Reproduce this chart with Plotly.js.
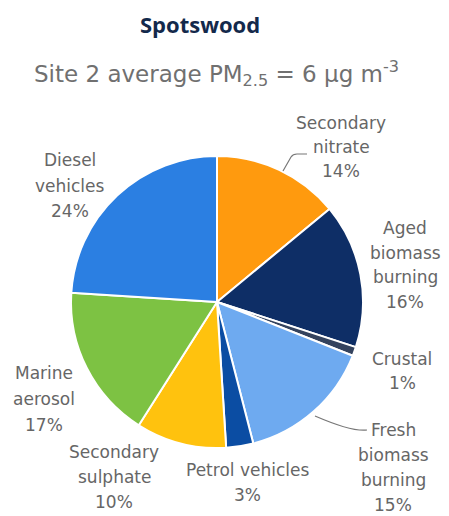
<!DOCTYPE html>
<html>
<head>
<meta charset="utf-8">
<script src="https://cdn.plot.ly/plotly-3.0.1.min.js"></script>
<style>html,body{margin:0;padding:0;background:#fff;}#chart{width:449px;height:516px;}</style>
</head>
<body>
<div id="chart"></div>
<script>
// Data
const categories = ["Secondary nitrate", "Aged biomass burning", "Crustal", "Fresh biomass burning", "Petrol vehicles", "Secondary sulphate", "Marine aerosol", "Diesel vehicles"];
const labelLines = [["Secondary", "nitrate"], ["Aged", "biomass", "burning"], ["Crustal"], ["Fresh", "biomass", "burning"], ["Petrol vehicles"], ["Secondary", "sulphate"], ["Marine", "aerosol"], ["Diesel", "vehicles"]];
const values = [14, 16, 1, 15, 3, 10, 17, 24];
const colors = ["#FF9A0E", "#0E2E66", "#34435E", "#6EAAF0", "#0B4DA3", "#FFC20E", "#7DC243", "#2B7FE2"];
const chartTitle = "Spotswood";
const subTitle = "Site 2 average PM<sub>2.5</sub> = 6 μg m<sup>-3</sup>";

const W = 449, H = 516;
const px = x => x / W;
const py = y => 1 - y / H;

// label layout (pixels): [centre x, first line y, line spacing]
const labelPos = [[341, 123, 24], [405, 228, 24.5], [402, 359, 24], [393, 430, 25], [247, 470, 25], [114, 452, 25], [44, 373, 26], [70, 160, 25.5]];

const cx = 217, cy = 302, r = 146;

const trace = {
  type: "pie",
  labels: categories,
  values: values,
  sort: false,
  direction: "clockwise",
  rotation: 0,
  textinfo: "none",
  hoverinfo: "label+percent",
  marker: {colors: colors, line: {color: "#ffffff", width: 2}},
  domain: {x: [px(cx - r), px(cx + r)], y: [py(cy + r), py(cy - r)]},
  showlegend: false
};

const font = {family: "DejaVu Sans, sans-serif", size: 17, color: "#666666"};
const annotations = [];
categories.forEach((c, i) => {
  const lines = labelLines[i].concat([values[i] + "%"]);
  const [lx, ly, sp] = labelPos[i];
  lines.forEach((t, k) => {
    annotations.push({
      x: px(lx), y: py(ly + k * sp), xref: "paper", yref: "paper",
      text: t, showarrow: false, xanchor: "center", yanchor: "middle", font: font
    });
  });
});
annotations.push({x: px(200), y: py(24), xref: "paper", yref: "paper", text: "<b>" + chartTitle + "</b>", showarrow: false,
  xanchor: "center", yanchor: "middle", font: {family: "Open Sans, sans-serif", size: 22, color: "#13294B"}});
annotations.push({x: px(216), y: py(73), xref: "paper", yref: "paper", text: subTitle, showarrow: false,
  xanchor: "center", yanchor: "middle", font: {family: "DejaVu Sans, sans-serif", size: 23, color: "#707070"}});

const P = (x, y) => `${px(x)},${py(y)}`;
const shapes = [
  {type: "path", xref: "paper", yref: "paper",
   path: `M ${P(283, 171)} L ${P(291, 157)} Q ${P(293, 154)} ${P(297, 154)} L ${P(307, 154)}`,
   line: {color: "#777", width: 1.2}},
  {type: "path", xref: "paper", yref: "paper",
   path: `M ${P(315, 416)} Q ${P(352, 432)} ${P(367, 430)}`,
   line: {color: "#777", width: 1.2}}
];

const layout = {
  width: W, height: H,
  margin: {l: 0, r: 0, t: 0, b: 0},
  paper_bgcolor: "#ffffff",
  annotations: annotations,
  shapes: shapes
};

Plotly.newPlot("chart", [trace], layout, {displayModeBar: false, staticPlot: true});
</script>
</body>
</html>
